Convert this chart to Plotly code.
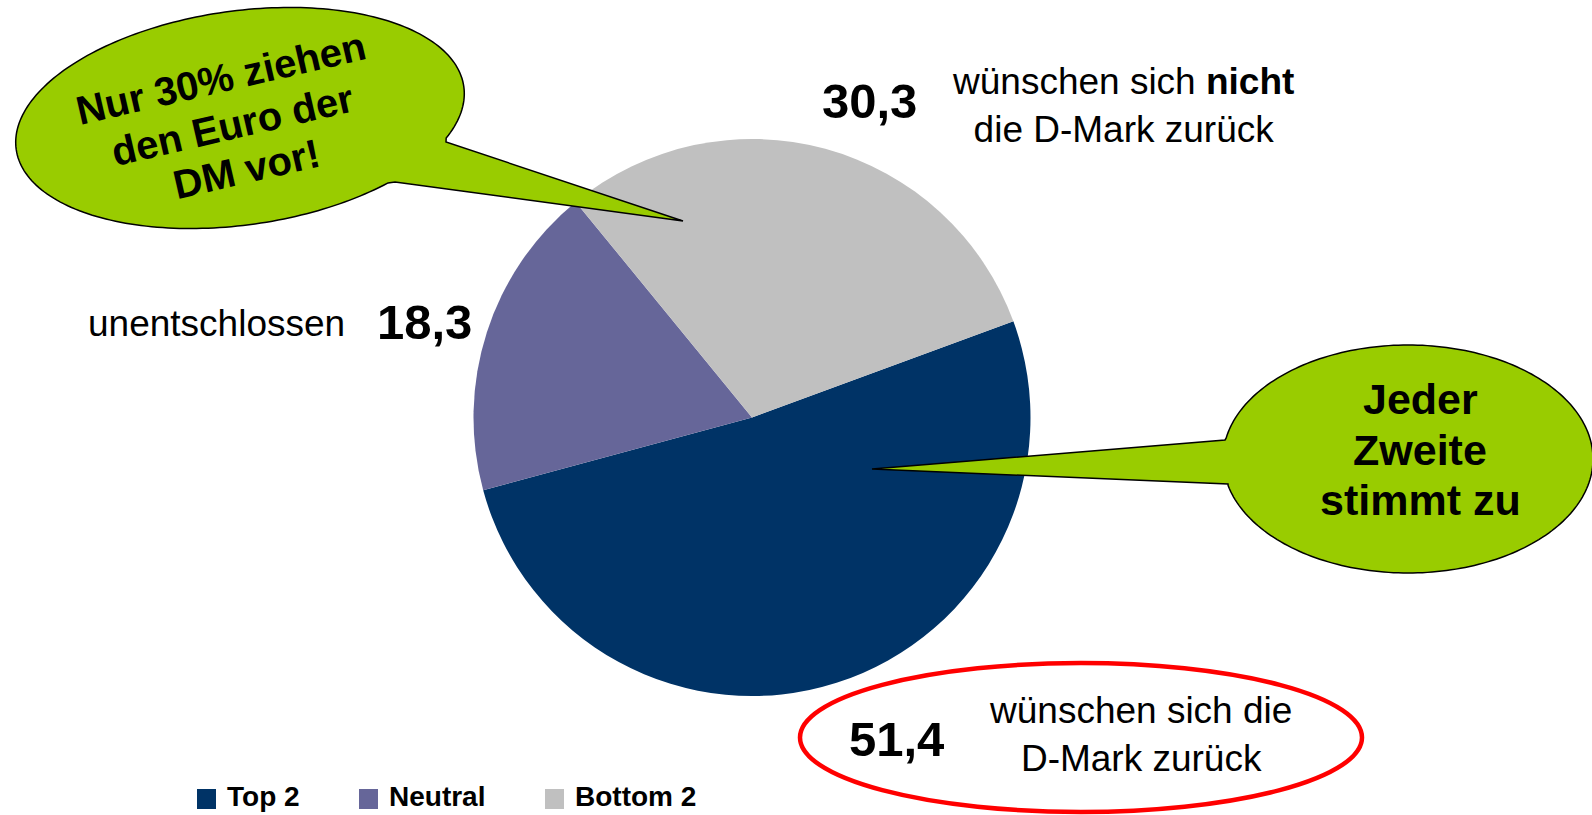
import numpy as np
import plotly.graph_objects as go

# Survey result: wish to have the D-Mark back
categories = ["Top 2", "Neutral", "Bottom 2"]
values = [51.4, 18.3, 30.3]
colors = ["#003366", "#666699", "#C0C0C0"]

W, H = 1592, 815
FONT = "Liberation Sans, Arial, sans-serif"


def px(x):
    return x / W


def py(y):
    return 1 - y / H


def fmt(v):
    return f"{v:.1f}".replace(".", ",")


def bubble_path(cx, cy, a, b, tilt_deg, att1, att2, tip, n=240):
    """Ellipse outline (tilted upwards to the right by tilt_deg) with a pointed tail."""
    t = np.linspace(0, 2 * np.pi, n, endpoint=False)
    th = np.radians(-tilt_deg)
    xs = cx + a * np.cos(t) * np.cos(th) - b * np.sin(t) * np.sin(th)
    ys = cy + a * np.cos(t) * np.sin(th) + b * np.sin(t) * np.cos(th)
    i1 = int(np.argmin((xs - att1[0]) ** 2 + (ys - att1[1]) ** 2))
    i2 = int(np.argmin((xs - att2[0]) ** 2 + (ys - att2[1]) ** 2))
    fwd = (i2 - i1) % n
    if fwd > n / 2:
        seq = [(i1 + k) % n for k in range(1, fwd)]
    else:
        seq = [(i1 - k) % n for k in range(1, n - fwd)]
    pts = [att1] + [(xs[i], ys[i]) for i in seq] + [att2, tip]
    return "M " + " L ".join(f"{px(x):.5f},{py(y):.5f}" for x, y in pts) + " Z"


# Pie geometry (pixels)
cx, cy, r = 752, 417.5, 278.5

fig = go.Figure(
    go.Pie(
        labels=categories,
        values=values,
        sort=False,
        direction="clockwise",
        rotation=69.8,
        marker=dict(colors=colors, line=dict(width=0)),
        textinfo="none",
        hoverinfo="label+value",
        showlegend=False,
        domain=dict(x=[px(cx - r), px(cx + r)], y=[py(cy + r), py(cy - r)]),
    )
)

shapes = []
GREEN = "#99CC00"

# Speech bubbles
shapes.append(dict(
    type="path", xref="paper", yref="paper", layer="above",
    path=bubble_path(240, 118, 226, 107, 8, (446, 142), (395, 182), (683, 221)),
    fillcolor=GREEN, line=dict(color="black", width=1.5),
))
shapes.append(dict(
    type="path", xref="paper", yref="paper", layer="above",
    path=bubble_path(1408, 459, 185, 114, 0, (1225, 440), (1228, 484), (872, 469)),
    fillcolor=GREEN, line=dict(color="black", width=1.5),
))

# Red highlight around the majority answer
shapes.append(dict(
    type="circle", xref="paper", yref="paper", layer="above",
    x0=px(800), x1=px(1362), y0=py(812), y1=py(663),
    line=dict(color="#FF0000", width=4.5), fillcolor="rgba(0,0,0,0)",
))

annotations = []


def note(x, y, text, size, bold=False, angle=0, xanchor="center"):
    annotations.append(dict(
        x=px(x), y=py(y), xref="paper", yref="paper",
        text=f"<b>{text}</b>" if bold else text,
        showarrow=False, xanchor=xanchor, yanchor="middle",
        textangle=angle,
        font=dict(family=FONT, size=size, color="black"),
    ))


# Slice value labels and descriptions
top2, neutral, bottom2 = values
note(870, 101, fmt(bottom2), 49, bold=True)
note(1123, 105, "wünschen sich <b>nicht</b><br>die D-Mark zurück", 37)
note(425, 322, fmt(neutral), 49, bold=True)
note(216, 324, "unentschlossen", 37)
note(896, 739, fmt(top2), 49, bold=True)
note(1140, 734, "wünschen sich die<br>D-Mark zurück", 37)

# Bubble texts, one annotation per line
left_lines = ["Nur 30% ziehen", "den Euro der", "DM vor!"]
for (lx, ly), line in zip([(221, 78), (232, 125), (246, 169)], left_lines):
    note(lx, ly, line, 40, bold=True, angle=-13)

right_lines = ["Jeder", "Zweite", "stimmt zu"]
for ly, line in zip([399, 450, 500], right_lines):
    note(1420, ly, line, 43, bold=True)

# Legend
leg_x = [197, 359, 545]
for lx, lab, col in zip(leg_x, categories, colors):
    shapes.append(dict(
        type="rect", xref="paper", yref="paper", layer="above",
        x0=px(lx), x1=px(lx + 19), y0=py(809), y1=py(789),
        fillcolor=col, line=dict(width=0),
    ))
    note(lx + 28, 796, lab, 28, bold=True, xanchor="left")

fig.update_layout(
    width=W, height=H,
    margin=dict(l=0, r=0, t=0, b=0),
    paper_bgcolor="white", plot_bgcolor="white",
    shapes=shapes, annotations=annotations,
    showlegend=False,
)

fig.write_html("out.html")
